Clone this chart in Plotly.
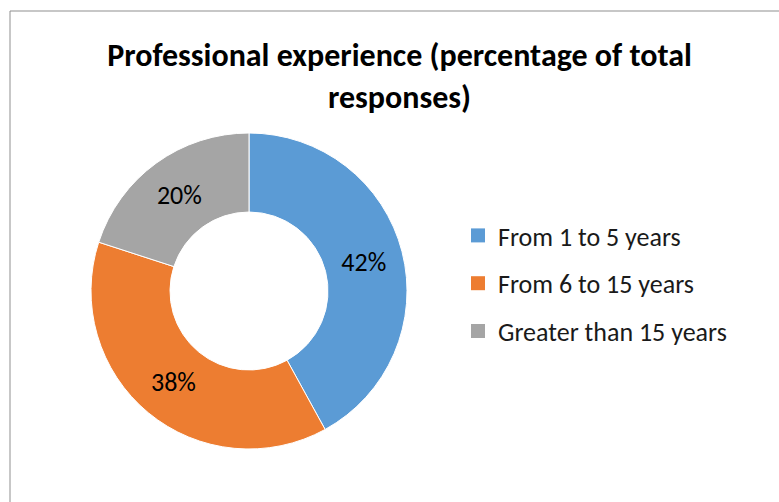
import plotly.graph_objects as go

# Share of survey responses by years of professional experience
categories = ["From 1 to 5 years", "From 6 to 15 years", "Greater than 15 years"]
shares = [42, 38, 20]
colors = ["#5B9BD5", "#ED7D31", "#A5A5A5"]

W, H = 779, 502
FONT = "Carlito, Lato, sans-serif"

fig = go.Figure()

fig.add_trace(go.Pie(
    labels=categories,
    values=shares,
    hole=0.5,
    sort=False,
    direction="clockwise",
    rotation=0,
    marker=dict(colors=colors, line=dict(color="white", width=1)),
    texttemplate="%{value}%",
    textposition="inside",
    insidetextorientation="horizontal",
    textfont=dict(family=FONT, size=26, color="black"),
    showlegend=False,
    hoverinfo="label+value",
    domain=dict(x=[91 / W, 407 / W], y=[1 - 449 / H, 1 - 133 / H]),
))

# Legend entries, one group per category so the rows can be spaced out
for name, col in zip(categories, colors):
    fig.add_trace(go.Scatter(
        x=[None], y=[None], mode="markers", name=name, legendgroup=name,
        marker=dict(symbol="square", size=14, color=col, line=dict(width=0)),
        hoverinfo="skip",
    ))

fig.update_layout(
    width=W, height=H,
    margin=dict(l=0, r=0, t=0, b=0),
    paper_bgcolor="white", plot_bgcolor="white",
    xaxis=dict(visible=False), yaxis=dict(visible=False),
    uniformtext=dict(minsize=26, mode="show"),
    title=dict(
        text="<b>Professional experience (percentage of total<br>responses)</b>",
        x=399.5 / W, xanchor="center",
        y=1 - 66 / H, yanchor="top", yref="container",
        font=dict(family=FONT, size=32, color="black"),
    ),
    legend=dict(
        x=458 / W, xanchor="left",
        y=1 - 212 / H, yanchor="top",
        font=dict(family=FONT, size=26, color="#1a1a1a"),
        tracegroupgap=11,
        bgcolor="rgba(0,0,0,0)",
    ),
    shapes=[
        dict(type="line", xref="paper", yref="paper",
             x0=10 / W, x1=1, y0=1 - 11 / H, y1=1 - 11 / H,
             line=dict(color="#8f8f8f", width=1)),
        dict(type="line", xref="paper", yref="paper",
             x0=10 / W, x1=10 / W, y0=0, y1=1 - 11 / H,
             line=dict(color="#8f8f8f", width=1)),
    ],
)

fig.write_html("out.html")
